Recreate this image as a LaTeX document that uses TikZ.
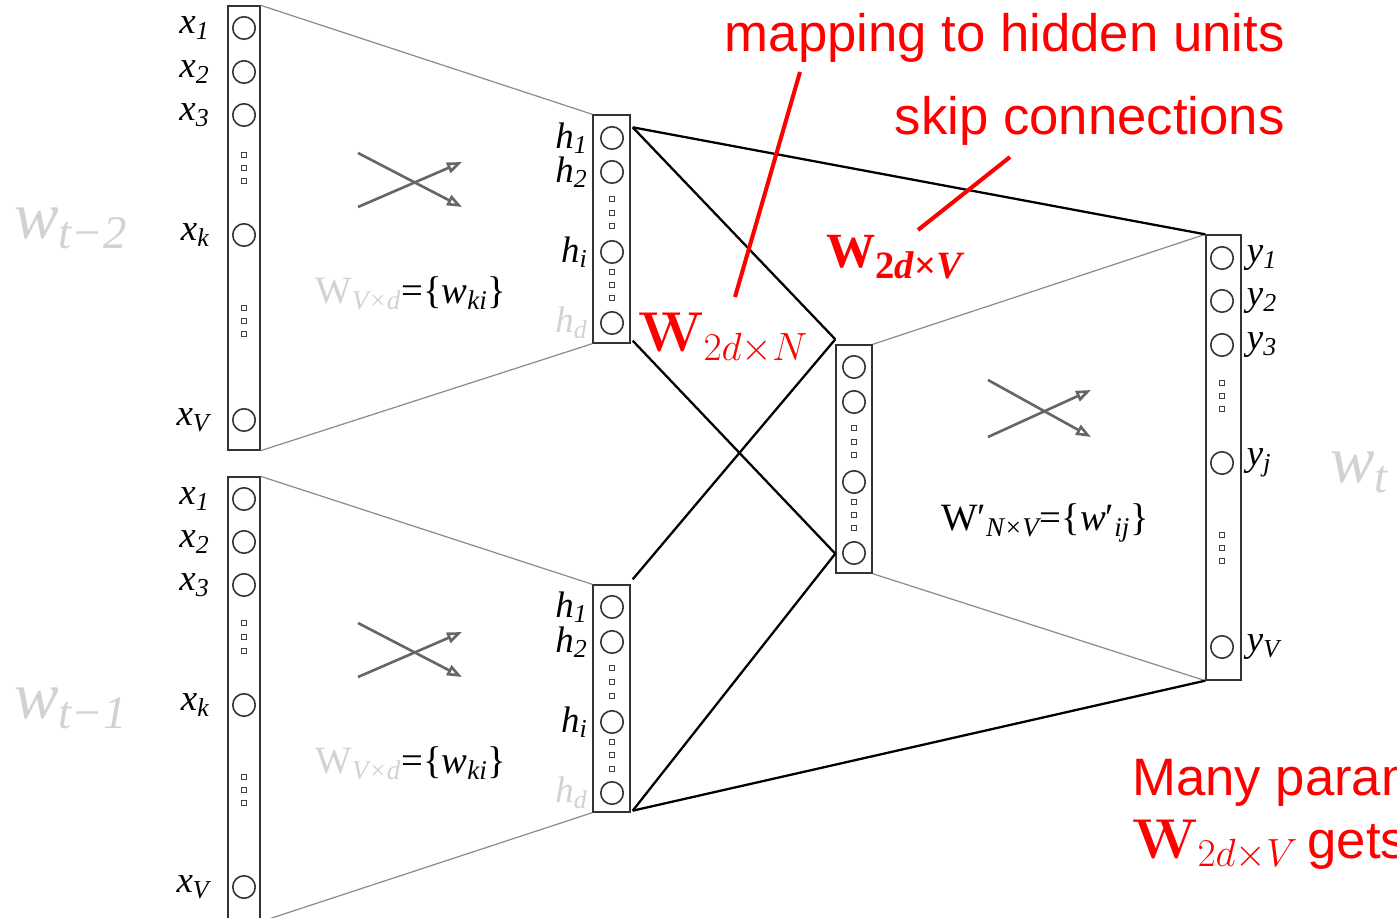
\RequirePackage{fix-cm}
\documentclass[tikz,border=0pt]{standalone}
\usepackage[no-math]{fontspec}
\usepackage{tikz}
\usetikzlibrary{positioning,arrows.meta,calc}
\newfontfamily\annfont{Liberation Sans}
\newfontfamily\labfont{Liberation Serif}
\definecolor{AnnRed}{HTML}{FF0000}
\definecolor{FaintGray}{HTML}{D2D2D2}
\definecolor{FanGray}{HTML}{8C8C8C}

\begin{document}
\begin{tikzpicture}[
  x=0.02cm, y=-0.02cm,
  layer/.style={draw=black!80, line width=0.8pt, inner sep=0pt},
  unit/.style={circle, draw=black!80, line width=0.9pt, inner sep=0pt, minimum size=0.45cm},
  gap/.style={draw=black!75, line width=0.4pt},
  lbl/.style={inner sep=0pt, font=\labfont\itshape\fontsize{21}{23}\selectfont},
  wlbl/.style={inner sep=0pt, font=\labfont\fontsize{22}{24}\selectfont},
  ghost/.style={inner sep=0pt, text=FaintGray, font=\labfont\itshape\fontsize{38}{40}\selectfont},
  fan/.style={draw=FanGray, line width=0.7pt},
  link/.style={draw=black, line width=1.3pt},
  mix/.style={draw=black!60, line width=1.5pt, -{Triangle[open, length=0.3cm, width=0.22cm]}},
  note/.style={inner sep=0pt, text=AnnRed, font=\annfont\fontsize{30}{34}\selectfont},
  bignote/.style={inner sep=0pt, text=AnnRed, font=\fontsize{32}{36}\selectfont},
  pointer/.style={draw=AnnRed, line width=2.3pt}
]
\useasboundingbox (0,0) rectangle (1397,918);
\clip (0,0) rectangle (1397,918);

% layers
\node[layer, minimum width=0.64cm, minimum height=8.88cm] (inA) at (244,228) {};
\node[layer, minimum width=0.74cm, minimum height=4.56cm] (hidA) at (611.5,229) {};
\node[layer, minimum width=0.64cm, minimum height=8.88cm] (inB) at (244,699) {};
\node[layer, minimum width=0.74cm, minimum height=4.54cm] (hidB) at (611.5,698.5) {};
\node[layer, minimum width=0.72cm, minimum height=4.56cm] (midC) at (854,459) {};
\node[layer, minimum width=0.70cm, minimum height=8.90cm] (outY) at (1223.5,457.5) {};

% fan-in / fan-out
\draw[fan] (inA.north east) -- (hidA.north west);
\draw[fan] (inA.south east) -- (hidA.south west);
\draw[fan] (inB.north east) -- (hidB.north west);
\draw[fan] (inB.south east) -- (hidB.south west);
\draw[fan] (midC.north east) -- (outY.north west);
\draw[fan] (midC.south east) -- (outY.south west);

% input words
\foreach \n/\y in {1/28,2/72,3/115,k/235,V/420}{
  \node[unit] (xa\n) at (244,\y) {};
  \node[lbl, left=0.44cm of xa\n] (xla\n) {x\textsubscript{\n}};
}
\foreach \n/\y in {1/499,2/542,3/585,k/705,V/887}{
  \node[unit] (xb\n) at (244,\y) {};
  \node[lbl, left=0.44cm of xb\n] (xlb\n) {x\textsubscript{\n}};
}
\foreach \y in {155,168,181,308,321,334,623,637,651,777,790,803}
  \draw[gap] (241.5,\y-2.5) rectangle ++(5,5);

% hidden units
\foreach \n/\y in {1/138,2/172,i/252}{
  \node[unit] (ha\n) at (612,\y) {};
  \node[lbl, left=0.24cm of ha\n] (hla\n) {h\textsubscript{\n}};
}
\node[unit] (had) at (612,323) {};
\node[lbl, text=FaintGray, left=0.24cm of had] (hlad) {h\textsubscript{d}};
\foreach \n/\y in {1/607,2/642,i/722}{
  \node[unit] (hb\n) at (612,\y) {};
  \node[lbl, left=0.24cm of hb\n] (hlb\n) {h\textsubscript{\n}};
}
\node[unit] (hbd) at (612,793) {};
\node[lbl, text=FaintGray, left=0.24cm of hbd] (hlbd) {h\textsubscript{d}};
\foreach \y in {199,213,226,272,285,298,668,682,696,742,755,769}
  \draw[gap] (609.5,\y-2.5) rectangle ++(5,5);

% concatenated layer
\foreach \n/\y in {1/367,2/402,3/482,4/553}
  \node[unit] (c\n) at (854,\y) {};
\foreach \y in {428,442,455,502,515,528}
  \draw[gap] (851.5,\y-2.5) rectangle ++(5,5);

% output
\foreach \n/\y in {1/258,2/301,3/345,j/463,V/647}{
  \node[unit] (y\n) at (1222,\y) {};
  \node[lbl, right=0.25cm of y\n] (yl\n) {y\textsubscript{\n}};
}
\foreach \y in {383,396,409,535,548,561}
  \draw[gap] (1219.5,\y-2.5) rectangle ++(5,5);

% faint word labels
\node[ghost, anchor=west] (wt2) at (14,228) {w\textsubscript{t−2}};
\node[ghost, anchor=west] (wt1) at (14,708) {w\textsubscript{t−1}};
\node[ghost, anchor=west] (wt) at (1330,472) {w\textsubscript{t}};

% weight labels
\node[wlbl] (wA) at (411,293) {{\color{FaintGray}W\textsubscript{\itshape V×d}}=\{\textit{w}\textsubscript{\itshape ki}\}};
\node[wlbl] (wB) at (411,763) {{\color{FaintGray}W\textsubscript{\itshape V×d}}=\{\textit{w}\textsubscript{\itshape ki}\}};
\node[wlbl] (wC) at (1045,523) {W′\textsubscript{\itshape N×V}=\{\textit{w}′\textsubscript{\itshape ij}\}};

% crossing arrows
\draw[mix] (358,207) -- (462,162);
\draw[mix] (358,153) -- (462,207);
\draw[mix] (358,677) -- (462,632);
\draw[mix] (358,623) -- (462,677);
\draw[mix] (988,437) -- (1091,390);
\draw[mix] (988,380) -- (1091,437);

% connections
\coordinate (aTop) at ($(hidA.north east)+(2,13)$);
\coordinate (aBot) at ($(hidA.south east)+(2,-3)$);
\coordinate (bTop) at ($(hidB.north east)+(2,-5)$);
\coordinate (bBot) at ($(hidB.south east)+(2,-2)$);
\coordinate (cTop) at ($(midC.north west)+(0,-5)$);
\coordinate (cLow) at ($(midC.south west)+(0,-20)$);
\draw[link] (aTop) -- (cTop);
\draw[link] (aTop) -- (outY.north west);
\draw[link] (aBot) -- (cLow);
\draw[link] (bTop) -- (cTop);
\draw[link] (bBot) -- (cLow);
\draw[link] (bBot) -- (outY.south west);

% annotations
\node[note, anchor=base east] (maptxt) at (1285,52) {mapping to hidden units};
\node[note, anchor=base east] (skiptxt) at (1285,135) {skip connections};
\node[inner sep=0pt, anchor=base west, text=AnnRed, font=\labfont\bfseries\fontsize{28}{30}\selectfont] (wskip) at (826,268) {W\raisebox{-6pt}{\fontsize{22}{24}\selectfont 2\textit{d}×\textit{V}}};
\node[bignote, anchor=base west] (wmap) at (638,352) {$\mathbf{W}_{2d\times N}$};
\node[note, anchor=base west] (many) at (1132,795) {Many param};
\node[bignote, anchor=base west] (wgets) at (1132,858) {$\mathbf{W}_{2d\times V}$\,{\annfont\fontsize{30}{34}\selectfont gets}};
\coordinate (mapFrom) at (800,72);
\coordinate (mapTo) at (735,297);
\coordinate (skipFrom) at (1010,157);
\coordinate (skipTo) at (918,230);
\draw[pointer] (mapFrom) -- (mapTo);
\draw[pointer] (skipFrom) -- (skipTo);
\end{tikzpicture}
\end{document}
